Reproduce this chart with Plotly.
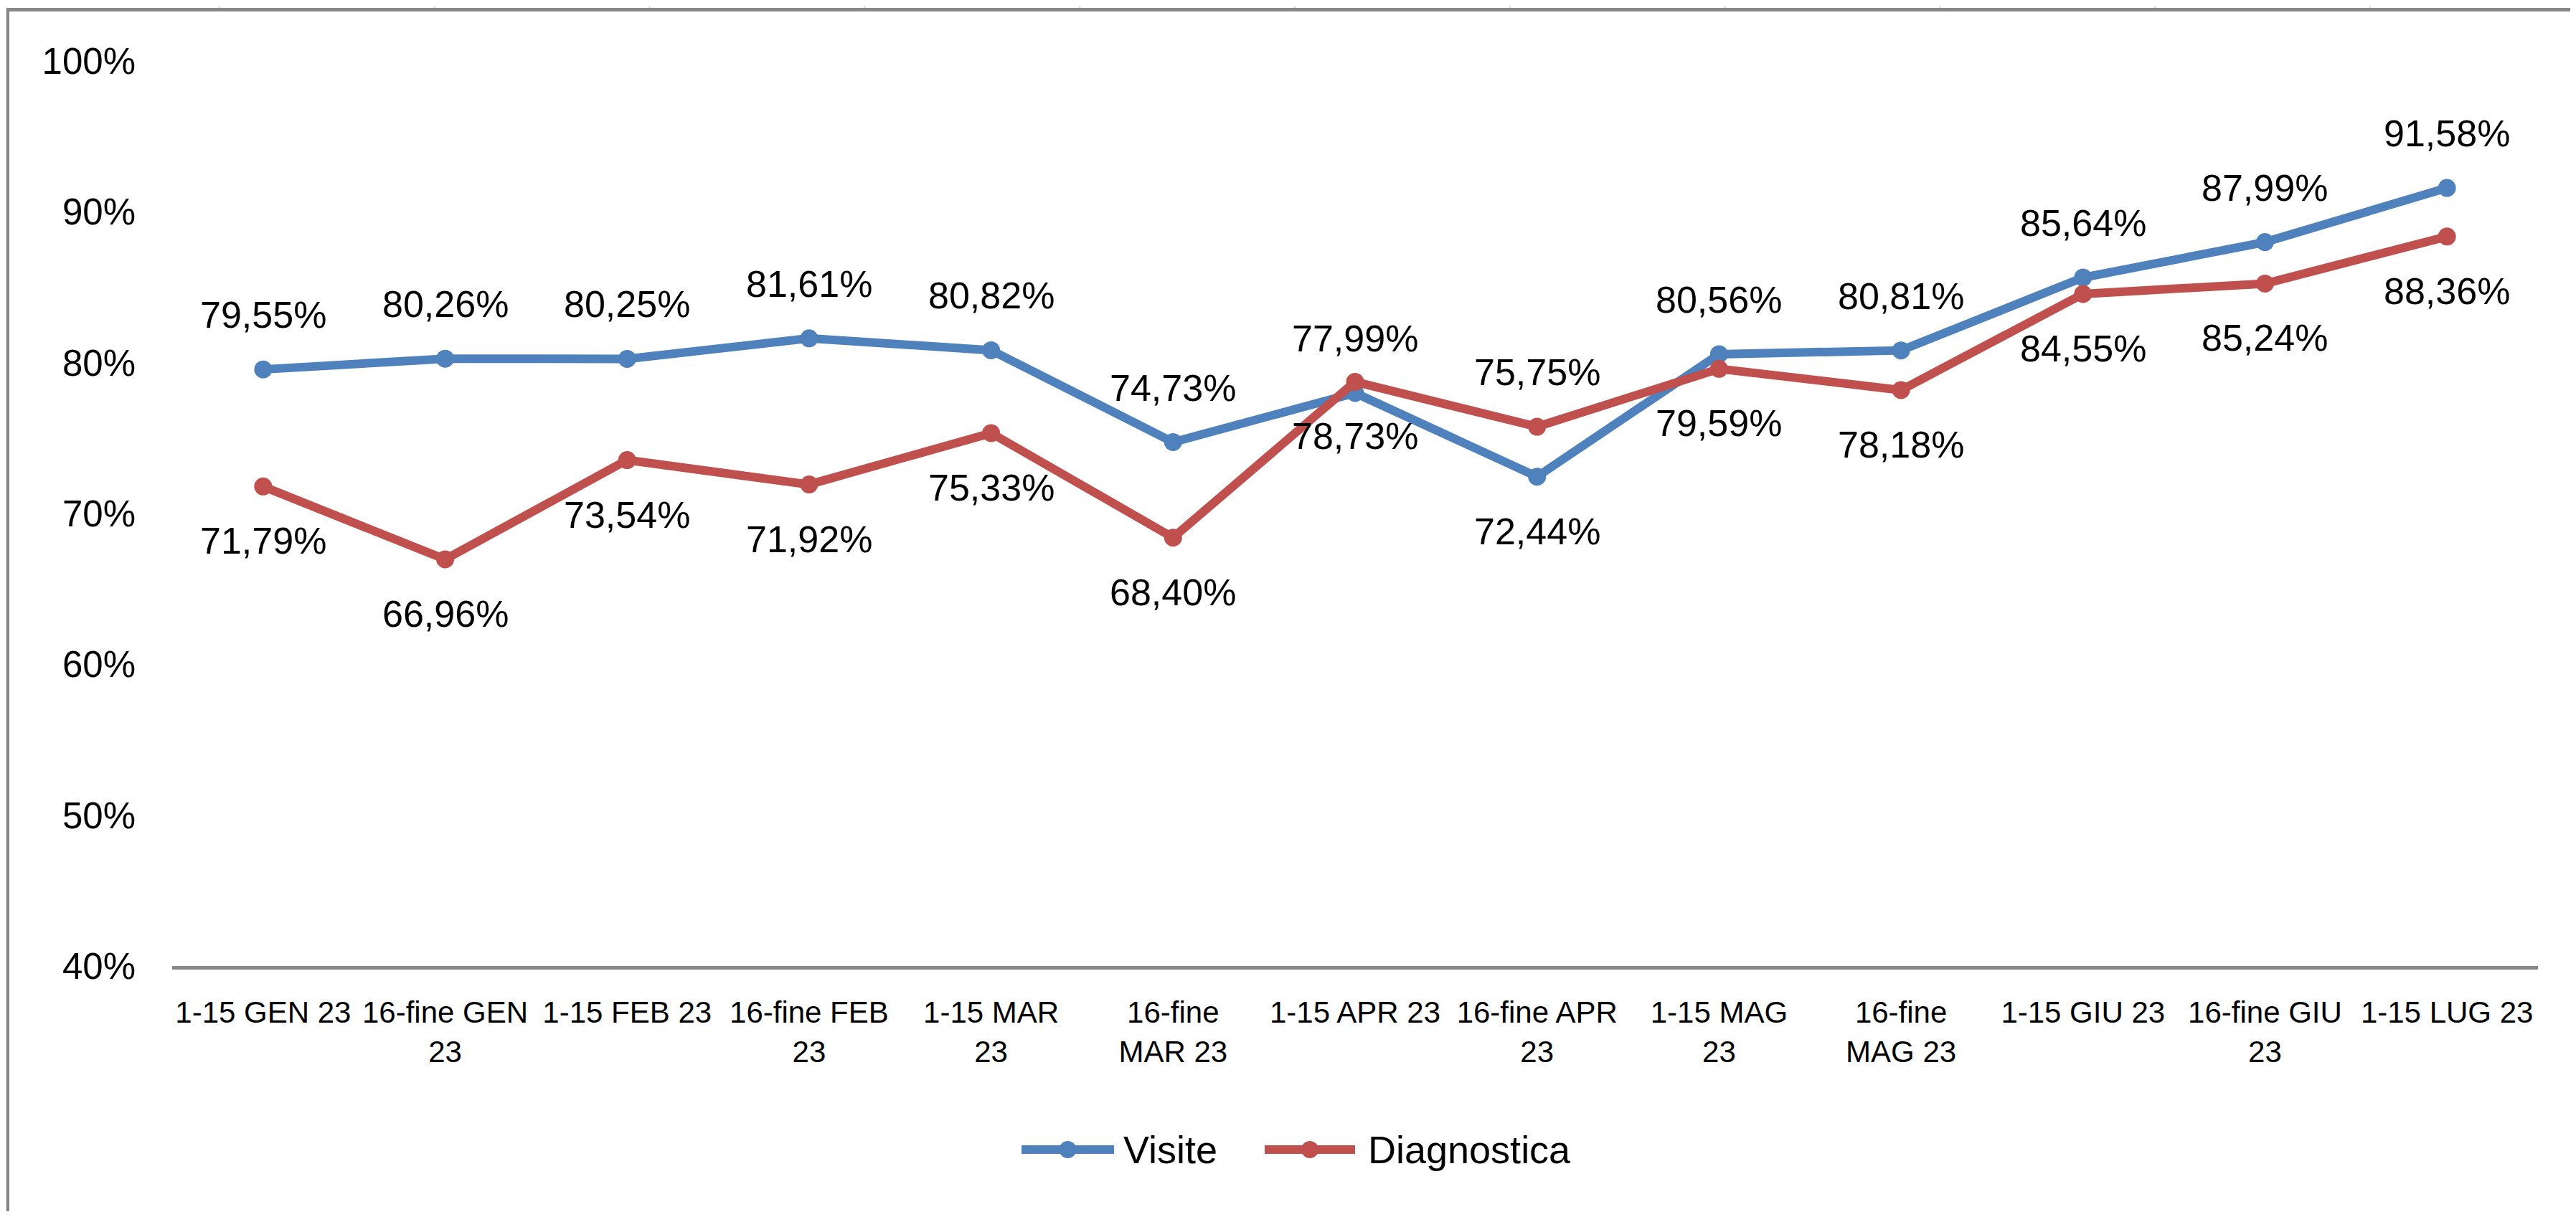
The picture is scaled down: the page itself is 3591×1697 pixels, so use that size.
import plotly.graph_objects as go

# ---------------- data ----------------
categories = ["1-15 GEN 23", "16-fine GEN<br>23", "1-15 FEB 23", "16-fine FEB<br>23",
              "1-15 MAR<br>23", "16-fine<br>MAR 23", "1-15 APR 23", "16-fine APR<br>23",
              "1-15 MAG<br>23", "16-fine<br>MAG 23", "1-15 GIU 23", "16-fine GIU<br>23",
              "1-15 LUG 23"]
visite = [79.55, 80.26, 80.25, 81.61, 80.82, 74.73, 77.99, 72.44, 80.56, 80.81, 85.64, 87.99, 91.58]
diagnostica = [71.79, 66.96, 73.54, 71.92, 75.33, 68.40, 78.73, 75.75, 79.59, 78.18, 84.55, 85.24, 88.36]
series_names = ["Visite", "Diagnostica"]
y_ticks = [40, 50, 60, 70, 80, 90, 100]

# ---------------- style ----------------
PAGE_MARGIN = 8            # default <body> margin of the html page
PAGE_W, PAGE_H = 3591, 1697
W, H = PAGE_W - 2 * PAGE_MARGIN, PAGE_H - 2 * PAGE_MARGIN
# plot area in page pixels: x 240..3538, y 85..1347
L, T = 240 - PAGE_MARGIN, 85 - PAGE_MARGIN
R = W - (3538 - PAGE_MARGIN)
B = H - (1347 - PAGE_MARGIN)
PW, PH = W - L - R, H - T - B
FONT = "Liberation Sans"
BLUE, RED = "#4F81BD", "#C0504D"
GRAY = "#878787"
LABEL_SHIFT = 76
visite_side = [1, 1, 1, 1, 1, 1, 1, -1, 1, 1, 1, 1, 1]
diag_side = [-1, -1, -1, -1, -1, -1, -1, 1, -1, -1, -1, -1, -1]


def fmt(v):
    return f"{v:.2f}".replace(".", ",") + "%"


def X(px):  # page pixel -> paper x
    return (px - PAGE_MARGIN - L) / PW


def Y(py):  # page pixel -> paper y
    return (H - B - (py - PAGE_MARGIN)) / PH


fig = go.Figure()
for name, vals, color in [(series_names[0], visite, BLUE), (series_names[1], diagnostica, RED)]:
    fig.add_trace(go.Scatter(
        x=categories, y=vals, name=name, mode="lines+markers",
        line=dict(color=color, width=12),
        marker=dict(symbol="circle", size=25, color=color),
        showlegend=False, hoverinfo="skip", cliponaxis=False,
    ))

annotations = []
for vals, sides in [(visite, visite_side), (diagnostica, diag_side)]:
    for c, v, s in zip(categories, vals, sides):
        annotations.append(dict(
            x=c, y=v, xref="x", yref="y", text=fmt(v), showarrow=False,
            xanchor="center", yanchor="middle", yshift=s * LABEL_SHIFT,
            font=dict(family=FONT, size=52, color="#000000"),
        ))

# custom legend (Excel-style long line symbols)
legend_y = 1603
legend_items = [(series_names[0], BLUE, 1424, 1553, 1564), (series_names[1], RED, 1763, 1889, 1905)]
shapes = []
for name, color, x0, x1, tx in legend_items:
    shapes.append(dict(type="line", xref="paper", yref="paper",
                       x0=X(x0), x1=X(x1), y0=Y(legend_y), y1=Y(legend_y),
                       line=dict(color=color, width=12)))
    cx = (x0 + x1) / 2
    shapes.append(dict(type="circle", xref="paper", yref="paper",
                       x0=X(cx - 12), x1=X(cx + 12), y0=Y(legend_y + 12), y1=Y(legend_y - 12),
                       fillcolor=color, line=dict(width=0)))
    annotations.append(dict(x=X(tx), y=Y(legend_y), xref="paper", yref="paper",
                            text=name, showarrow=False, xanchor="left", yanchor="middle",
                            font=dict(family=FONT, size=54, color="#000000")))

# chart frame decoration (left and top borders of the Excel chart area)
shapes.append(dict(type="rect", xref="paper", yref="paper", x0=X(8), x1=X(9), y0=Y(8), y1=Y(PAGE_H - 8),
                   fillcolor="#DADADA", line=dict(width=0), layer="below"))
shapes.append(dict(type="rect", xref="paper", yref="paper", x0=X(9), x1=X(13), y0=Y(11), y1=Y(PAGE_H - 8),
                   fillcolor=GRAY, line=dict(width=0)))
shapes.append(dict(type="rect", xref="paper", yref="paper", x0=X(9), x1=X(PAGE_W - 8), y0=Y(11), y1=Y(16),
                   fillcolor=GRAY, line=dict(width=0)))
tx = 306.0
while tx < PAGE_W - 8:
    shapes.append(dict(type="rect", xref="paper", yref="paper", x0=X(tx - 1.5), x1=X(tx + 1.5),
                       y0=Y(8), y1=Y(11), fillcolor="#E2E2E2", line=dict(width=0)))
    tx += 299.8

fig.update_layout(
    width=W, height=H,
    margin=dict(l=L, r=R, t=T, b=B, autoexpand=False),
    paper_bgcolor="white", plot_bgcolor="white",
    font=dict(family=FONT, color="#000000"),
    xaxis=dict(type="category", range=[-0.5, len(categories) - 0.5],
               showline=True, linecolor=GRAY, linewidth=5, showgrid=False, zeroline=False,
               ticks="", tickangle=0, ticklabelstandoff=24,
               tickfont=dict(family=FONT, size=42, color="#000000")),
    yaxis=dict(range=[40, 100], tickvals=y_ticks, ticktext=[f"{v}%" for v in y_ticks],
               showline=False, showgrid=False, zeroline=False, ticks="",
               ticklabelstandoff=50,
               tickfont=dict(family=FONT, size=51, color="#000000")),
    annotations=annotations,
    shapes=shapes,
    showlegend=False,
)

fig.write_html("out.html")
